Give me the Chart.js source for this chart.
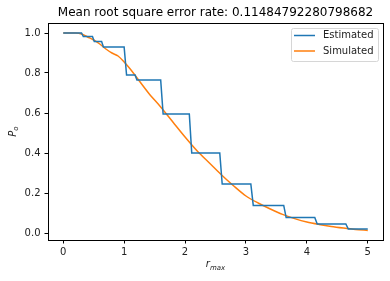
<!DOCTYPE html>
<html>
<head>
<meta charset="utf-8">
<script src="https://cdn.jsdelivr.net/npm/chart.js@4.4.1/dist/chart.umd.min.js"></script>
<style>
  html, body { margin: 0; padding: 0; background: #fff; }
  canvas { display: block; }
</style>
</head>
<body>
<canvas id="chart" width="390" height="281"></canvas>
<script>
// data
var titleText = 'Mean root square error rate: 0.11484792280798682';
var xTicks = [0, 1, 2, 3, 4, 5];
var yTicks = [0.0, 0.2, 0.4, 0.6, 0.8, 1.0];

var estX = [0, 0.30, 0.33, 0.48, 0.51, 0.63, 0.66, 1.00, 1.04, 1.18, 1.21, 1.60, 1.64, 2.07, 2.11, 2.57, 2.61, 3.08, 3.12, 3.62, 3.66, 4.13, 4.17, 4.64, 4.68, 5.00];
var estY = [1.0, 1.0, 0.982, 0.982, 0.957, 0.957, 0.93, 0.93, 0.79, 0.79, 0.765, 0.765, 0.595, 0.595, 0.40, 0.40, 0.245, 0.245, 0.138, 0.138, 0.077, 0.077, 0.045, 0.045, 0.02, 0.02];

var simX = [0, 0.2, 0.3, 0.4, 0.5, 0.6, 0.7, 0.8, 0.9, 1.0, 1.1, 1.2, 1.4, 1.6, 1.8, 2.0, 2.2, 2.4, 2.6, 2.8, 3.0, 3.2, 3.4, 3.6, 3.8, 4.0, 4.2, 4.4, 4.6, 4.8, 5.0];
var simY = [1.0, 1.0, 0.995, 0.98, 0.965, 0.945, 0.92, 0.9, 0.885, 0.855, 0.82, 0.78, 0.70, 0.63, 0.555, 0.48, 0.41, 0.35, 0.29, 0.235, 0.185, 0.15, 0.12, 0.093, 0.072, 0.055, 0.043, 0.033, 0.025, 0.018, 0.013];

function toPoints(xs, ys) {
    return xs.map(function (x, i) { return { x: x, y: ys[i] }; });
}

var font = "'DejaVu Sans', sans-serif";

// title, frame, axis labels and legend like matplotlib
var mplDecor = {
    id: 'mplDecor',
    afterDraw: function (chart) {
        var ctx = chart.ctx;
        var a = chart.chartArea;
        ctx.save();

        // frame
        ctx.strokeStyle = '#000';
        ctx.lineWidth = 1;
        ctx.strokeRect(a.left + 0.5, a.top + 0.5, a.right - a.left, a.bottom - a.top);

        // title
        ctx.fillStyle = '#000';
        ctx.font = '12px ' + font;
        ctx.textAlign = 'center';
        ctx.textBaseline = 'alphabetic';
        ctx.fillText(titleText, (a.left + a.right) / 2, 16);

        // x label r_max
        ctx.fillStyle = '#222';
        ctx.textAlign = 'left';
        ctx.font = 'italic 10px ' + font;
        var rw = ctx.measureText('r').width;
        ctx.font = 'italic 7px ' + font;
        var sw = ctx.measureText('max').width;
        var x0 = (a.left + a.right) / 2 - (rw + sw) / 2;
        ctx.font = 'italic 10px ' + font;
        ctx.fillText('r', x0, 267);
        ctx.font = 'italic 7px ' + font;
        ctx.fillText('max', x0 + rw, 269.5);

        // y label P_o
        ctx.translate(15.5, (a.top + a.bottom) / 2);
        ctx.rotate(-Math.PI / 2);
        ctx.font = 'italic 10px ' + font;
        var pw = ctx.measureText('P').width;
        ctx.font = 'italic 7px ' + font;
        var ow = ctx.measureText('o').width;
        var y0 = -(pw + ow) / 2;
        ctx.font = 'italic 10px ' + font;
        ctx.fillText('P', y0, 0);
        ctx.font = 'italic 7px ' + font;
        ctx.fillText('o', y0 + pw, 2);
        ctx.restore();

        // legend
        ctx.save();
        var lx = 291.5, ly = 28.5, lw = 87, lh = 33;
        ctx.beginPath();
        ctx.roundRect(lx, ly, lw, lh, 2);
        ctx.fillStyle = 'rgba(255,255,255,0.8)';
        ctx.fill();
        ctx.strokeStyle = '#d6d6d6';
        ctx.lineWidth = 1;
        ctx.stroke();
        ctx.font = '10px ' + font;
        ctx.textBaseline = 'middle';
        ctx.textAlign = 'left';
        chart.data.datasets.forEach(function (ds, i) {
            var yy = 35.5 + i * 15.5;
            ctx.strokeStyle = ds.borderColor;
            ctx.lineWidth = 1.5;
            ctx.beginPath();
            ctx.moveTo(294, yy);
            ctx.lineTo(315, yy);
            ctx.stroke();
            ctx.fillStyle = '#222';
            ctx.fillText(ds.label, 323, yy);
        });
        ctx.restore();
    }
};

new Chart(document.getElementById('chart'), {
    type: 'line',
    data: {
        datasets: [{
            label: 'Estimated',
            data: toPoints(estX, estY),
            borderColor: '#1f77b4',
            borderWidth: 1.5,
            pointRadius: 0,
            tension: 0
        }, {
            label: 'Simulated',
            data: toPoints(simX, simY),
            borderColor: '#ff7f0e',
            borderWidth: 1.5,
            pointRadius: 0,
            tension: 0.3
        }]
    },
    options: {
        responsive: false,
        devicePixelRatio: 1,
        animation: false,
        layout: { padding: { left: 0, right: 7, top: 23, bottom: 0 } },
        plugins: {
            legend: { display: false },
            title: { display: false },
            tooltip: { enabled: false }
        },
        scales: {
            x: {
                type: 'linear',
                min: -0.25,
                max: 5.25,
                afterBuildTicks: function (scale) {
                    scale.ticks = xTicks.map(function (v) { return { value: v }; });
                },
                afterFit: function (scale) { scale.height = 41; },
                grid: { drawOnChartArea: false, tickLength: 3.5, color: '#000' },
                border: { display: false },
                ticks: {
                    padding: 3,
                    color: '#222',
                    font: { family: font, size: 10 },
                    maxRotation: 0,
                    callback: function (v) { return String(v); }
                }
            },
            y: {
                min: -0.035,
                max: 1.05,
                afterBuildTicks: function (scale) {
                    scale.ticks = yTicks.map(function (v) { return { value: v }; });
                },
                afterFit: function (scale) { scale.width = 48; },
                grid: { drawOnChartArea: false, tickLength: 3.5, color: '#000' },
                border: { display: false },
                ticks: {
                    padding: 4,
                    color: '#222',
                    font: { family: font, size: 10 },
                    callback: function (v) { return v.toFixed(1); }
                }
            }
        }
    },
    plugins: [mplDecor]
});
</script>
</body>
</html>
